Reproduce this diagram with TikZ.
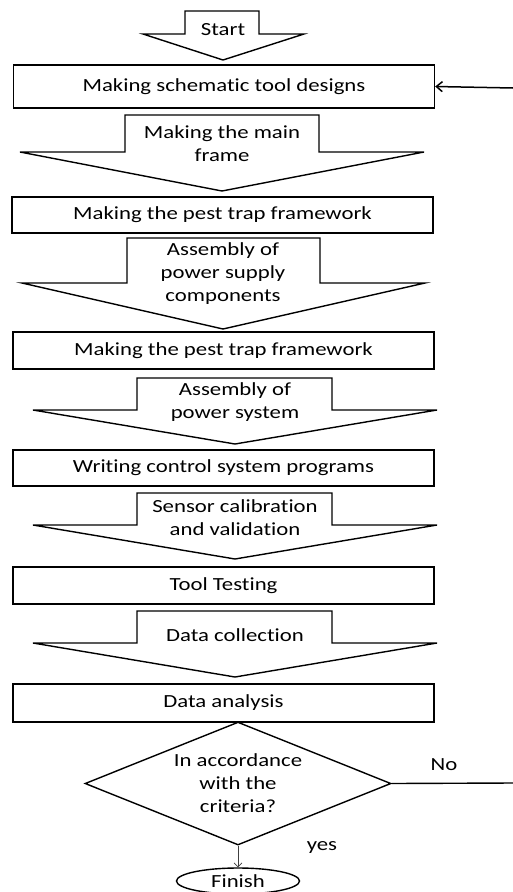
\documentclass[tikz,border=0pt]{standalone}
\usepackage{fontspec}
\setmainfont{Carlito}[FakeStretch=1.23, Ligatures=CommonOff]
\usetikzlibrary{arrows.meta, shapes.geometric}

\begin{document}
\begin{tikzpicture}[x=1pt, y=-1pt,
    font=\fontsize{18.5}{23}\selectfont,
    stage/.style={rectangle, draw=black, line width=1.4pt, minimum width=421pt, minimum height=37pt, inner sep=0pt},
    blockarrow/.style={draw=black, line width=1.4pt, line join=miter},
    steptext/.style={align=center, inner sep=0pt},
    arrow/.style={-{Straight Barb[length=6pt, width=10pt]}, line width=1.5pt},
    thinarrow/.style={-{Straight Barb[length=4pt, width=8pt]}, line width=0.7pt, draw=black!75}
]
\useasboundingbox (0,0) rectangle (513,892);

% ==== Block arrows (process steps) ====
\draw[blockarrow] (185,11) -- (259,11) -- (259,34) -- (304,34) -- (223,60) -- (143,34) -- (185,34) -- cycle;
\node[steptext] (start) at (223,30) {Start};

\draw[blockarrow] (125,115) -- (319,115) -- (319,152) -- (424,152) -- (222,191) -- (20,152) -- (125,152) -- cycle;
\node[steptext] (mainframe) at (222,143.5) {Making the main\\frame};

\draw[blockarrow] (127,238) -- (320,238) -- (320,283) -- (425,283) -- (223,329) -- (22,283) -- (127,283) -- cycle;
\node[steptext] (supply) at (223,273.5) {Assembly of\\power supply\\components};

\draw[blockarrow] (137,378) -- (332,378) -- (332,410) -- (437,410) -- (235,444) -- (33,410) -- (137,410) -- cycle;
\node[steptext] (powersys) at (235,402.5) {Assembly of\\power system};

\draw[blockarrow] (137,493) -- (332,493) -- (332,525) -- (437,525) -- (235,559) -- (33,525) -- (137,525) -- cycle;
\node[steptext] (calib) at (235,517.5) {Sensor calibration\\and validation};

\draw[blockarrow] (137,611) -- (332,611) -- (332,643) -- (437,643) -- (235,677) -- (33,643) -- (137,643) -- cycle;
\node[steptext] (collect) at (235,635) {Data collection};

% ==== Boxes ====
\node[stage, minimum height=43pt] (design) at (224,86.5) {Making schematic tool designs};
\node[stage, minimum height=36pt] (pestframe) at (222.5,215) {Making the pest trap framework};
\node[stage] (pestframe2) at (223.5,350.5) {Making the pest trap framework};
\node[stage, minimum height=36pt] (program) at (223.5,468) {Writing control system programs};
\node[stage] (testing) at (223.5,585.5) {Tool Testing};
\node[stage, minimum height=38pt] (analysis) at (223.5,703) {Data analysis};

% ==== Decision and end ====
\node[diamond, draw=black, line width=1.4pt, minimum width=306pt, minimum height=123pt, aspect=2.49, inner sep=0pt, align=center] (check) at (238,783.5) {In accordance\\with the\\criteria?};
\node[ellipse, draw=black, line width=1.4pt, minimum width=123pt, minimum height=26pt, inner sep=0pt] (finish) at (238,881) {Finish};

\draw[thinarrow] (check.south) -- (finish.north);
\node (yes) at (322,847) {yes};

% ==== Loop back ====
\coordinate (noend) at (513,783);
\coordinate (back) at (513,88);
\draw[line width=1.4pt] (check.east) -- (noend);
\node (no) at (444,765) {No};
\draw[arrow] (back) -- (design.east);

\end{tikzpicture}
\end{document}
